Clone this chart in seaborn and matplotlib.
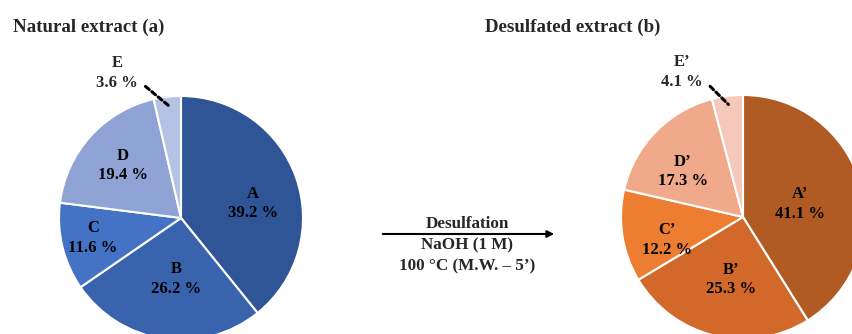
import numpy as np
import matplotlib
matplotlib.use("Agg")
import matplotlib.pyplot as plt
import seaborn as sns

sns.set_theme(style="white")
plt.rcParams["font.family"] = ["Liberation Serif", "DejaVu Serif"]

# Composition before and after desulfation (%)
natural_labels = ["A", "B", "C", "D", "E"]
natural_values = [39.2, 26.2, 11.6, 19.4, 3.6]
desulf_labels = ["A\u2019", "B\u2019", "C\u2019", "D\u2019", "E\u2019"]
desulf_values = [41.1, 25.3, 12.2, 17.3, 4.1]

natural_colors = ["#2F5597", "#3A63AE", "#4472C4", "#8FA3D5", "#B4C2E3"]
desulf_colors = ["#B05B23", "#D2692B", "#ED7D31", "#F0A98A", "#F6C8B9"]

titles = ["Natural extract (a)", "Desulfated extract (b)"]
arrow_texts = ["Desulfation", "NaOH (1 M)", "100 \u00b0C (M.W. \u2013 5\u2019)"]

W, H = 853, 334
fig = plt.figure(figsize=(W / 100, H / 100), dpi=100)
ax = fig.add_axes([0, 0, 1, 1])

R = 122
# label placement per slice: (radius fraction, angle offset in degrees)
natural_place = [(0.60, -8), (0.50, 4), (0.74, -1), (0.64, 0)]
desulf_place = [(0.48, -3), (0.52, 3), (0.65, 8), (0.62, 7)]


def draw_pie(cx, cy, labels, values, colors, place, small_text_xy):
    wedges, _ = ax.pie(values, colors=colors, startangle=90, counterclock=False,
                       center=(cx, cy), radius=R, normalize=True,
                       wedgeprops=dict(edgecolor="white", linewidth=1.5))
    for w, lab, val, (fr, off) in zip(wedges[:-1], labels[:-1], values[:-1], place):
        ang = np.deg2rad((w.theta1 + w.theta2) / 2 + off)
        ax.text(cx + fr * R * np.cos(ang), cy + fr * R * np.sin(ang),
                f"{lab}\n{val:.1f} %", ha="center", va="center",
                fontsize=12, fontweight="bold", linespacing=1.3, color="black")
    # smallest slice: label outside with dashed leader
    w = wedges[-1]
    ang = np.deg2rad((w.theta1 + w.theta2) / 2)
    tip = (cx + 0.93 * R * np.cos(ang), cy + 0.93 * R * np.sin(ang))
    ax.annotate(f"{labels[-1]}\n{values[-1]:.1f} %", xy=tip, xytext=small_text_xy,
                ha="center", va="center", fontsize=12, fontweight="bold",
                linespacing=1.3,
                arrowprops=dict(arrowstyle="-", linestyle=(0, (1.6, 1.1)), lw=2.2,
                                color="black", relpos=(1.0, 0.3),
                                shrinkA=4, shrinkB=0))


draw_pie(181, H - 218, natural_labels, natural_values, natural_colors,
         natural_place, (117, H - 73))
draw_pie(743, H - 217, desulf_labels, desulf_values, desulf_colors,
         desulf_place, (682, H - 72))

ax.set_xlim(0, W)
ax.set_ylim(0, H)
ax.set_aspect("auto")
ax.axis("off")

ax.text(13, H - 27, titles[0], ha="left", va="center", fontsize=13.6, fontweight="bold")
ax.text(485, H - 27, titles[1], ha="left", va="center", fontsize=13.6, fontweight="bold")

# reaction arrow with conditions
ax.annotate("", xy=(557, H - 234), xytext=(380, H - 234),
            arrowprops=dict(arrowstyle="-|>", lw=1.5, color="black", mutation_scale=10))
for txt, y in zip(arrow_texts, [224, 245, 266]):
    ax.text(467, H - y, txt, ha="center", va="center", fontsize=12.3, fontweight="bold")

fig.savefig("out.png", dpi=100)
